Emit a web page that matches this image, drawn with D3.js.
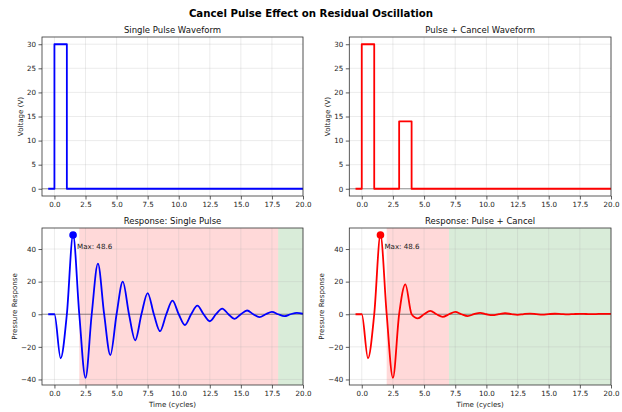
<!DOCTYPE html>
<html>
<head>
<meta charset="utf-8">
<script src="https://cdn.jsdelivr.net/npm/d3@7/dist/d3.min.js"></script>
<style>
  html, body { margin: 0; padding: 0; background: #fff; }
  svg { display: block; font-family: "DejaVu Sans", sans-serif; }
</style>
</head>
<body>
<svg id="chart" width="622" height="412"></svg>
<script>
// ---- Drive waveforms (time in cycles, voltage in V), drawn as steps ----
const singleWaveT = [-0.5, 0, 1, 20];
const singleWaveV = [0, 30, 0, 0];
const cancelWaveT = [-0.5, 0, 1, 3, 4, 20];
const cancelWaveV = [0, 30, 0, 14, 0, 0];

// ---- Pressure response: extrema and zero crossings (time in cycles) ----
const singleRespT = [-0.5, 0, 0.5, 1, 1.5, 2, 2.5, 3, 3.5, 4, 4.5, 5, 5.5, 6, 6.5, 7, 7.5, 8, 8.5, 9, 9.5,
  10, 10.5, 11, 11.5, 12, 12.5, 13, 13.5, 14, 14.5, 15, 15.5, 16, 16.5, 17, 17.5, 18, 18.5, 19, 19.5, 20];
const singleRespV = [0, 0, -27, 0, 48.6, 0, -39, 0, 31, 0, -25, 0, 20, 0, -16, 0, 13, 0, -10.4, 0, 8.3,
  0, -6.6, 0, 5.3, 0, -4.3, 0, 3.5, 0, -2.8, 0, 2.3, 0, -1.8, 0, 1.5, 0, -1.2, 0, 0.9, 0.3];

const cancelRespT = [-0.5, 0, 0.5, 1, 1.5, 2, 2.5, 3, 3.5, 4, 4.5, 5, 5.5, 6, 6.5, 7, 7.5, 8, 8.5, 9, 9.5,
  10, 10.5, 11, 11.5, 12, 12.5, 13, 13.5, 14, 14.5, 15, 15.5, 16, 16.5, 17, 17.5, 18, 18.5, 19, 19.5, 20];
const cancelRespV = [0, 0, -27, 0, 48.6, 0, -39, 0, 18.3, 0, -2.5, 0, 2.1, 0, -1.6, 0, 1.4, 0, -1.1, 0, 0.9,
  0, -0.6, 0.1, 0.6, 0.1, -0.4, 0.1, 0.4, 0.1, -0.2, 0.1, 0.3, 0.1, -0.1, 0.1, 0.25, 0.15, 0.05, 0.2, 0.25, 0.2];

// Peak annotations
const singlePeak = { t: 1.5, v: 48.6 };
const cancelPeak = { t: 1.5, v: 48.6 };

// Shaded phases [start, end]
const singleRed = [2, 18], singleGreen = [18, 20];
const cancelRed = [2, 7], cancelGreen = [7, 20];

// Axis ticks
const xTicks = [0, 2.5, 5, 7.5, 10, 12.5, 15, 17.5, 20];
const voltTicks = [0, 5, 10, 15, 20, 25, 30];
const respTicks = [-40, -20, 0, 20, 40];

const titles = ["Single Pulse Waveform", "Pulse + Cancel Waveform", "Response: Single Pulse", "Response: Pulse + Cancel"];

const svg = d3.select("#chart");
const tickFont = 7.1, titleFont = 8.5;

svg.append("text")
  .attr("x", 311).attr("y", 17)
  .attr("text-anchor", "middle")
  .attr("font-size", 10.2).attr("font-weight", "bold")
  .text("Cancel Pulse Effect on Residual Oscillation");

const cols = [{ x0: 42, x1: 303 }, { x0: 349.3, x1: 611 }];
const rows = [{ y0: 37, y1: 196 }, { y0: 228, y1: 385 }];

function panel(col, row, cfg) {
  const { x0, x1 } = cols[col];
  const { y0, y1 } = rows[row];
  const x = d3.scaleLinear().domain([-1, 20]).range([x0, x1]);
  const y = d3.scaleLinear().domain(cfg.yDomain).range([y1, y0]);
  const g = svg.append("g");
  const clipId = "clip" + col + row;
  g.append("clipPath").attr("id", clipId)
    .append("rect").attr("x", x0).attr("y", y0).attr("width", x1 - x0).attr("height", y1 - y0);

  // shaded phases
  if (cfg.spans) {
    cfg.spans.forEach(s => {
      g.append("rect")
        .attr("x", x(s.range[0])).attr("y", y0)
        .attr("width", x(s.range[1]) - x(s.range[0])).attr("height", y1 - y0)
        .attr("fill", s.color).attr("fill-opacity", 0.15);
    });
  }

  // grid
  g.append("g").selectAll("line").data(xTicks).join("line")
    .attr("x1", d => x(d)).attr("x2", d => x(d)).attr("y1", y0).attr("y2", y1)
    .attr("stroke", "#b0b0b0").attr("stroke-opacity", 0.3).attr("stroke-width", 0.8);
  g.append("g").selectAll("line").data(cfg.yTicks).join("line")
    .attr("x1", x0).attr("x2", x1).attr("y1", d => y(d)).attr("y2", d => y(d))
    .attr("stroke", "#b0b0b0").attr("stroke-opacity", 0.3).attr("stroke-width", 0.8);

  // zero line
  g.append("line").attr("x1", x0).attr("x2", x1).attr("y1", y(0)).attr("y2", y(0))
    .attr("stroke", "#000").attr("stroke-opacity", 0.5).attr("stroke-width", 0.8);

  // data line
  const pts = cfg.t.map((t, i) => [t, cfg.v[i]]);
  const line = d3.line().x(d => x(d[0])).y(d => y(d[1])).curve(cfg.curve);
  g.append("path").attr("clip-path", `url(#${clipId})`)
    .datum(pts).attr("d", line)
    .attr("fill", "none").attr("stroke", cfg.color).attr("stroke-width", 1.8)
    .attr("stroke-linejoin", "round");

  // peak marker + label
  if (cfg.peak) {
    g.append("circle").attr("cx", x(cfg.peak.t)).attr("cy", y(cfg.peak.v)).attr("r", 3.8)
      .attr("fill", cfg.color);
    g.append("text").attr("x", x(cfg.peak.t) + 4).attr("y", y(cfg.peak.v) + 13.5)
      .attr("font-size", tickFont).attr("fill", "#222")
      .text("Max: " + cfg.peak.v.toFixed(1));
  }

  // axes
  const xa = g.append("g").attr("transform", `translate(0,${y1})`)
    .call(d3.axisBottom(x).tickValues(xTicks).tickFormat(d3.format(".1f")).tickSizeOuter(0).tickSize(3.5).tickPadding(2.5));
  const ya = g.append("g").attr("transform", `translate(${x0},0)`)
    .call(d3.axisLeft(y).tickValues(cfg.yTicks).tickFormat(d => d3.format("d")(d).replace("-", "\u2212")).tickSizeOuter(0).tickSize(3.5).tickPadding(2.5));
  [xa, ya].forEach(a => {
    a.select(".domain").remove();
    a.selectAll("line").attr("stroke", "#333").attr("stroke-width", 0.8);
    a.selectAll("text").attr("font-size", tickFont).attr("fill", "#222").attr("font-family", "DejaVu Sans");
  });

  // frame
  g.append("rect").attr("x", x0).attr("y", y0).attr("width", x1 - x0).attr("height", y1 - y0)
    .attr("fill", "none").attr("stroke", "#333").attr("stroke-width", 0.8);

  // title & labels
  g.append("text").attr("x", (x0 + x1) / 2).attr("y", y0 - 4.5)
    .attr("text-anchor", "middle").attr("font-size", titleFont).attr("fill", "#111")
    .text(cfg.title);
  g.append("text")
    .attr("transform", `translate(${x0 - cfg.ylabOffset},${(y0 + y1) / 2}) rotate(-90)`)
    .attr("text-anchor", "middle").attr("font-size", tickFont).attr("fill", "#222")
    .text(cfg.ylabel);
  if (cfg.xlabel) {
    g.append("text").attr("x", (x0 + x1) / 2).attr("y", y1 + 22)
      .attr("text-anchor", "middle").attr("font-size", tickFont).attr("fill", "#222")
      .text(cfg.xlabel);
  }
}

panel(0, 0, { t: singleWaveT, v: singleWaveV, curve: d3.curveStepAfter, color: "#0000ff",
  yDomain: [-1.5, 31.5], yTicks: voltTicks, title: titles[0], ylabel: "Voltage (V)", ylabOffset: 19.5 });
panel(1, 0, { t: cancelWaveT, v: cancelWaveV, curve: d3.curveStepAfter, color: "#ff0000",
  yDomain: [-1.5, 31.5], yTicks: voltTicks, title: titles[1], ylabel: "Voltage (V)", ylabOffset: 19.5 });
panel(0, 1, { t: singleRespT, v: singleRespV, curve: d3.curveMonotoneX, color: "#0000ff",
  yDomain: [-43.4, 52.9], yTicks: respTicks, title: titles[2], ylabel: "Pressure Response", ylabOffset: 25,
  xlabel: "Time (cycles)", peak: singlePeak,
  spans: [{ range: singleRed, color: "red" }, { range: singleGreen, color: "green" }] });
panel(1, 1, { t: cancelRespT, v: cancelRespV, curve: d3.curveMonotoneX, color: "#ff0000",
  yDomain: [-43.4, 52.9], yTicks: respTicks, title: titles[3], ylabel: "Pressure Response", ylabOffset: 25,
  xlabel: "Time (cycles)", peak: cancelPeak,
  spans: [{ range: cancelRed, color: "red" }, { range: cancelGreen, color: "green" }] });
</script>
</body>
</html>
